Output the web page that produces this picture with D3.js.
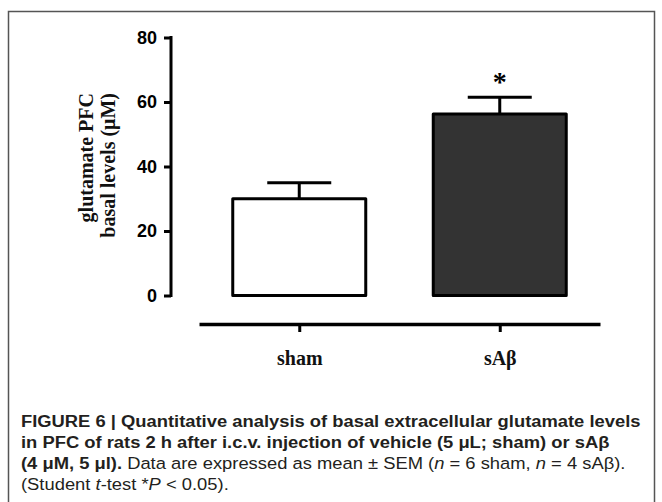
<!DOCTYPE html>
<html>
<head>
<meta charset="utf-8">
<script src="https://cdn.jsdelivr.net/npm/d3@7"></script>
<style>
  body { margin: 0; background: #fff; }
  svg { display: block; }
</style>
</head>
<body>
<svg width="662" height="502"></svg>
<script>
// data
var groups = ["sham", "sA\u03b2"];
var means = [30.0, 56.3];
var sems = [5.0, 5.2];
var fills = ["#ffffff", "#333333"];
var yTicks = [0, 20, 40, 60, 80];
var sigMarks = ["", "*"];

var svg = d3.select("svg"),
    width = +svg.attr("width"),
    height = +svg.attr("height");

// figure frame (open at the bottom)
svg.append("path")
    .attr("d", "M8.5," + height + " V11.5 H654.5 V" + height)
    .attr("fill", "none")
    .attr("stroke", "#555")
    .attr("stroke-width", 1.5);

var yScale = d3.scaleLinear()
    .domain([0, 80])
    .range([295.5, 37.5]);

var xScale = d3.scalePoint()
    .domain(groups)
    .range([199, 600])
    .padding(0.5);

var barWidth = 133;

// y axis
var yAxis = d3.axisLeft(yScale)
    .tickValues(yTicks)
    .tickSize(7)
    .tickPadding(7);

var gy = svg.append("g")
    .attr("transform", "translate(171,0)")
    .call(yAxis);
gy.select(".domain").remove();
gy.append("line")
    .attr("y1", yScale(0) + 1.5)
    .attr("y2", yScale(80) - 1.5)
    .attr("stroke", "#000")
    .attr("stroke-width", 3);
gy.selectAll(".tick line").attr("stroke", "#000").attr("stroke-width", 3);
gy.selectAll(".tick text")
    .attr("fill", "#000")
    .style("font-family", "'Liberation Sans', Arial, sans-serif")
    .style("font-weight", "bold")
    .style("font-size", "18px");

// y label (two lines, serif, ends aligned at the top)
var ylab = svg.append("text")
    .attr("transform", "translate(86,93) rotate(-90)")
    .attr("text-anchor", "end")
    .style("font-family", "'Liberation Serif', 'Times New Roman', serif")
    .style("font-weight", "bold")
    .style("font-size", "20px")
    .attr("fill", "#111");
ylab.append("tspan").attr("x", 0).attr("dy", "0.35em").text("glutamate PFC");
ylab.append("tspan").attr("x", 0).attr("dy", "1.08em").text("basal levels (\u03bcM)");

// bars
svg.selectAll("rect.bar")
    .data(groups)
    .enter().append("rect")
    .attr("class", "bar")
    .attr("x", d => xScale(d) - barWidth / 2)
    .attr("y", (d, i) => yScale(means[i]))
    .attr("width", barWidth)
    .attr("height", (d, i) => yScale(0) - yScale(means[i]))
    .attr("fill", (d, i) => fills[i])
    .attr("stroke", "#000")
    .attr("stroke-width", 3)
    .attr("stroke-linejoin", "round");

// error bars (upper only)
svg.selectAll("line.err")
    .data(groups)
    .enter().append("line")
    .attr("class", "err")
    .attr("x1", d => xScale(d))
    .attr("x2", d => xScale(d))
    .attr("y1", (d, i) => yScale(means[i]))
    .attr("y2", (d, i) => yScale(means[i] + sems[i]))
    .attr("stroke", "#000")
    .attr("stroke-width", 3);

svg.selectAll("line.cap")
    .data(groups)
    .enter().append("line")
    .attr("class", "cap")
    .attr("x1", d => xScale(d) - 32)
    .attr("x2", d => xScale(d) + 32)
    .attr("y1", (d, i) => yScale(means[i] + sems[i]))
    .attr("y2", (d, i) => yScale(means[i] + sems[i]))
    .attr("stroke", "#000")
    .attr("stroke-width", 3);

// significance star
svg.selectAll("text.sig")
    .data(groups)
    .enter().append("text")
    .attr("class", "sig")
    .attr("x", d => xScale(d))
    .attr("y", (d, i) => yScale(means[i] + sems[i]) - 6)
    .attr("text-anchor", "middle")
    .style("font-family", "'Liberation Serif', serif")
    .style("font-weight", "bold")
    .style("font-size", "28px")
    .text((d, i) => sigMarks[i]);

// x axis, detached below
var xAxis = d3.axisBottom(xScale)
    .tickSize(8)
    .tickPadding(19)
    .tickSizeOuter(0);

var gx = svg.append("g")
    .attr("transform", "translate(0,324)")
    .call(xAxis);
gx.select(".domain").attr("stroke", "#000").attr("stroke-width", 3.5);
gx.selectAll(".tick line").attr("stroke", "#000").attr("stroke-width", 3);
gx.selectAll(".tick text")
    .attr("fill", "#111")
    .style("font-family", "'Liberation Serif', 'Times New Roman', serif")
    .style("font-weight", "bold")
    .style("font-size", "20px");

// caption
var cap = svg.append("g").attr("class", "caption");
var capFont = "'Liberation Sans Narrow', 'Liberation Sans', Arial, sans-serif";
var capLines = [
    [{ t: "FIGURE 6 | Quantitative analysis of basal extracellular glutamate levels", w: "bold" }],
    [{ t: "in PFC of rats 2 h after i.c.v. injection of vehicle (5 \u03bcL; sham) or sA\u03b2", w: "bold" }],
    [{ t: "(4 \u03bcM, 5 \u03bcl).", w: "bold" },
     { t: " Data are expressed as mean \u00b1 SEM (" },
     { t: "n", s: "italic" },
     { t: " = 6 sham, " },
     { t: "n", s: "italic" },
     { t: " = 4 sA\u03b2)." }],
    [{ t: "(Student " },
     { t: "t", s: "italic" },
     { t: "-test *" },
     { t: "P", s: "italic" },
     { t: " < 0.05)." }]
];
var capY = [427, 448, 469, 490];

capLines.forEach(function(parts, i) {
    var t = cap.append("text")
        .attr("x", 0)
        .attr("y", capY[i])
        .attr("fill", "#231f20")
        .style("font-family", capFont)
        .style("font-size", "17px");
    parts.forEach(function(p) {
        t.append("tspan")
            .style("font-weight", p.w || "normal")
            .style("font-style", p.s || "normal")
            .text(p.t);
    });
});

// squeeze the caption so the first line spans the same width as in the figure
var firstW = cap.select("text").node().getComputedTextLength();
var sx = 620 / firstW;
cap.attr("transform", "translate(21,0) scale(" + sx + ",1)");
</script>
</body>
</html>
